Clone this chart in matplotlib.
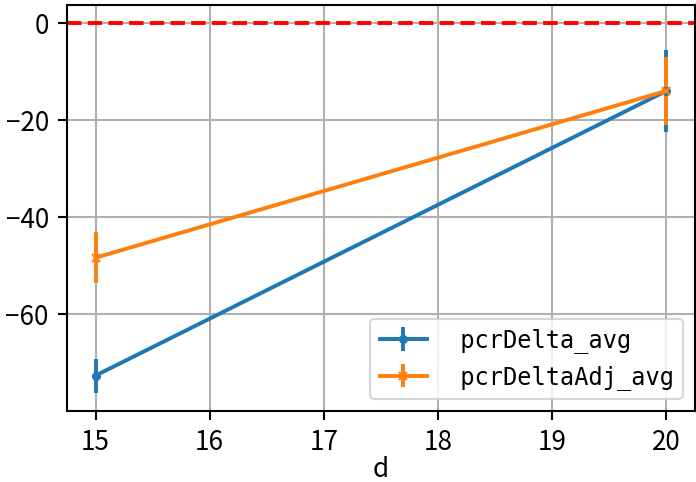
import matplotlib
matplotlib.use("Agg")
import matplotlib.pyplot as plt

# data
d_vals = [15, 20]
pcr_delta_avg = [-72.6, -13.9]
pcr_delta_err = [3.5, 8.4]
pcr_delta_adj_avg = [-48.3, -13.9]
pcr_delta_adj_err = [5.2, 7.0]
x_ticks = [15, 16, 17, 18, 19, 20]
y_ticks = [0, -20, -40, -60]

s = 1.875  # scale from a 10pt style to this pixel size
plt.rcParams["font.family"] = ["Noto Sans CJK SC", "DejaVu Sans"]
plt.rcParams["font.size"] = 10 * s
plt.rcParams["axes.unicode_minus"] = True

fig = plt.figure(figsize=(6.96, 4.82), dpi=100)
ax = fig.add_axes([67 / 696, 1 - 411 / 482, 628 / 696, 406 / 482])

ax.errorbar(d_vals, pcr_delta_avg, yerr=pcr_delta_err, marker="o",
            markersize=5.5, lw=1.5 * s, elinewidth=1.5 * s,
            color="#1f77b4", label=" pcrDelta_avg")
ax.errorbar(d_vals, pcr_delta_adj_avg, yerr=pcr_delta_adj_err, marker="x",
            markersize=5.5, mew=1.5, lw=1.5 * s, elinewidth=1.5 * s,
            color="#ff7f0e", label=" pcrDeltaAdj_avg")
ax.axhline(0, color="red", linestyle="--", lw=1.5 * s)

ax.set_xticks(x_ticks)
ax.set_yticks(y_ticks)
ax.grid(True, color="#b0b0b0", lw=0.8 * s)
ax.set_axisbelow(True)
for sp in ax.spines.values():
    sp.set_linewidth(0.8 * s)
ax.tick_params(width=0.8 * s, length=3.5 * s, pad=3.5 * s)
ax.set_xlabel("d", labelpad=0)

leg = ax.legend(loc="lower right", prop={"family": "DejaVu Sans Mono", "size": 17},
                handlelength=2.0)
leg.get_frame().set_linewidth(0.8 * s)

fig.savefig("out.png", dpi=100)
